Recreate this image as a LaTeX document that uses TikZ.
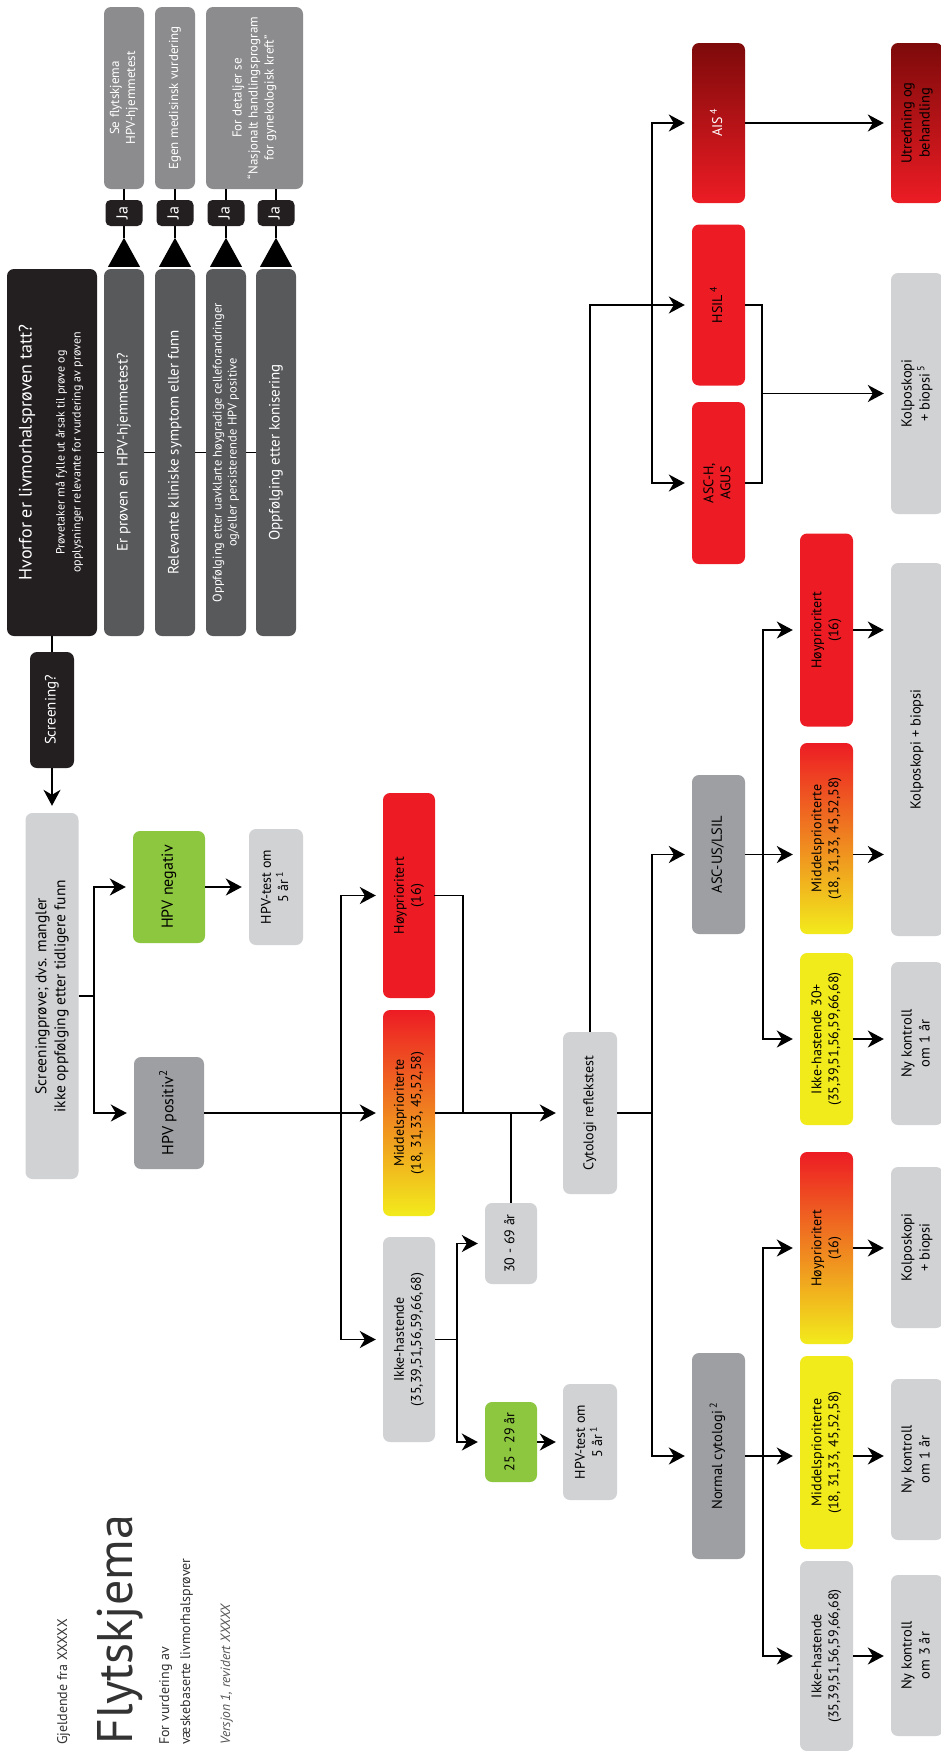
\documentclass[tikz,border=0pt]{standalone}
\usepackage{fontspec}
\setmainfont{PT Sans}
\usepackage{graphicx}
\usetikzlibrary{arrows.meta,calc}
\definecolor{blk}{HTML}{231F20}
\definecolor{dkg}{HTML}{58595B}
\definecolor{mdg}{HTML}{8C8C8E}
\definecolor{mgr}{HTML}{9D9FA2}
\definecolor{lgr}{HTML}{D1D2D4}
\definecolor{grn}{HTML}{8DC63F}
\definecolor{rd}{HTML}{ED1C24}
\definecolor{yl}{HTML}{F2EB1C}
\definecolor{org}{HTML}{F3922A}
\definecolor{drd}{HTML}{7D0A0A}
\definecolor{ttl}{HTML}{333333}
\definecolor{vers}{HTML}{555555}
\newcommand\rtxt[3]{\rotatebox{90}{\fontsize{#1}{#2}\selectfont\begin{tabular}{@{}c@{}}#3\end{tabular}}}
\tikzset{
  bx/.style={rounded corners=7pt, inner sep=0pt},
  ln/.style={line width=1.7pt, draw=black},
  arr/.style={ln, -{Stealth[length=16pt,width=17pt,inset=5pt]}, shorten >=7pt},
  gRY/.style={top color=rd, middle color=org, bottom color=yl},
  gDR/.style={top color=drd, bottom color=rd},
  ttxt/.style={rotate=90, anchor=base west, inner sep=0pt, text=ttl},
}
\begin{document}
\begin{tikzpicture}[x=1pt,y=-1pt]
\fill[white] (0,0) rectangle (941,1751);
\useasboundingbox (0,0) rectangle (941,1751);

% title texts
\node[ttxt, font=\fontsize{14}{16}\selectfont] (gj) at (67,1745) {Gjeldende fra XXXXX};
\node[ttxt, font=\fontsize{50}{50}\selectfont] (fly) at (132,1745) {Flytskjema};
\node[ttxt, font=\fontsize{14}{16}\selectfont] (fv1) at (169,1745) {For vurdering av};
\node[ttxt, font=\fontsize{14}{16}\selectfont] (fv2) at (190,1745) {væskebaserte livmorhalsprøver};
\node[ttxt, text=vers, font=\fontsize{13.5}{16}\selectfont\itshape] (ver) at (230,1745) {Versjon 1, revidert XXXXX};

% top boxes
\node[bx, fill=mdg, text=white, minimum width=40pt, minimum height=182pt] (B1) at (124,98) {\rtxt{13}{16}{Se flytskjema\\HPV-hjemmetest}};
\node[bx, fill=mdg, text=white, minimum width=40pt, minimum height=182pt] (B2) at (175,98) {\rtxt{13}{16}{Egen medisinsk vurdering}};
\node[bx, fill=mdg, text=white, minimum width=97pt, minimum height=182pt] (B3) at (254.5,98) {\rtxt{13}{16}{For detaljer se\\“Nasjonalt handlingsprogram\\for gynekologisk kreft”}};

\foreach \n/\xx in {J1/124,J2/175,J3/226,J4/276}{
  \node[rounded corners=5pt, inner sep=0pt, fill=blk, text=white, minimum width=37pt, minimum height=26pt] (\n) at (\xx,213) {\rtxt{16}{18}{Ja}};
}

\node[bx, fill=blk, text=white, minimum width=90pt, minimum height=367pt] (H) at (52,452.5) {\rotatebox{90}{\fontsize{12}{16}\selectfont\begin{tabular}{@{}c@{}}{\fontsize{18}{22}\selectfont Hvorfor er livmorhalsprøven tatt?}\\[17pt]Prøvetaker må fylle ut årsak til prøve og\\opplysninger relevante for vurdering av prøven\end{tabular}}};
\node[bx, fill=dkg, text=white, minimum width=40pt, minimum height=367pt] (D1) at (124,452.5) {\rtxt{15}{18}{Er prøven en HPV-hjemmetest?}};
\node[bx, fill=dkg, text=white, minimum width=40pt, minimum height=367pt] (D2) at (175,452.5) {\rtxt{15}{18}{Relevante kliniske symptom eller funn}};
\node[bx, fill=dkg, text=white, minimum width=40pt, minimum height=367pt] (D3) at (226,452.5) {\rtxt{12.5}{15}{Oppfølging etter uavklarte høygradige celleforandringer\\og/eller persisterende HPV positive}};
\node[bx, fill=dkg, text=white, minimum width=40pt, minimum height=367pt] (D4) at (276,452.5) {\rtxt{15}{18}{Oppfølging etter konisering}};

\node[bx, fill=blk, text=white, minimum width=44pt, minimum height=116pt] (S) at (52,710) {\rtxt{15}{18}{Screening?}};
\node[bx, fill=lgr, minimum width=53pt, minimum height=366pt] (SP) at (52,996) {\rtxt{15.5}{19}{Screeningprøve; dvs. mangler\\ikke oppfølging etter tidligere funn}};
\node[bx, fill=grn, minimum width=72pt, minimum height=112pt] (NEG) at (169,887) {\rtxt{16}{19}{HPV negativ}};
\node[bx, fill=lgr, minimum width=54pt, minimum height=116pt] (T5a) at (276,887) {\rtxt{14}{17}{HPV-test om\\5 år\,\textsuperscript{1}}};
\node[bx, fill=mgr, minimum width=70pt, minimum height=112pt] (POS) at (169,1113) {\rtxt{16}{19}{HPV positiv\textsuperscript{2}}};

\node[bx, fill=rd, minimum width=52pt, minimum height=205pt] (HOY1) at (409,895.5) {\rtxt{14}{17}{Høyprioritert\\(16)}};
\node[bx, gRY, minimum width=52pt, minimum height=206pt] (MID1) at (409,1113) {\rtxt{14}{17}{Middelsprioriterte\\(18, 31,33, 45,52,58)}};
\node[bx, fill=lgr, minimum width=52pt, minimum height=205pt] (IKK1) at (409,1339.5) {\rtxt{14}{17}{Ikke-hastende\\(35,39,51,56,59,66,68)}};
\node[bx, fill=lgr, minimum width=52pt, minimum height=81pt] (A3069) at (511,1243.5) {\rtxt{14}{17}{30 - 69 år}};
\node[bx, fill=grn, minimum width=52pt, minimum height=80pt] (A2529) at (511,1442) {\rtxt{14}{17}{25 - 29 år}};
\node[bx, fill=lgr, minimum width=54pt, minimum height=116pt] (T5b) at (590,1442) {\rtxt{14}{17}{HPV-test om\\5 år\,\textsuperscript{1}}};
\node[bx, fill=lgr, minimum width=54pt, minimum height=162pt] (CYT) at (590,1113) {\rtxt{14}{17}{Cytologi reflekstest}};

\node[bx, fill=mgr, minimum width=53pt, minimum height=206pt] (NORM) at (718.5,1456) {\rtxt{14.5}{17}{Normal cytologi\,\textsuperscript{2}}};
\node[bx, fill=mgr, minimum width=53pt, minimum height=159pt] (ASCUS) at (718.5,854.5) {\rtxt{14.5}{17}{ASC-US/LSIL}};
\node[bx, fill=rd, minimum width=53pt, minimum height=162pt] (ASCH) at (718.5,483) {\rtxt{14}{17}{ASC-H,\\AGUS}};
\node[bx, fill=rd, minimum width=53pt, minimum height=161pt] (HSIL) at (718.5,305) {\rtxt{14}{17}{HSIL\,\textsuperscript{4}}};
\node[bx, gDR, text=white, minimum width=53pt, minimum height=160pt] (AIS) at (718.5,123) {\rtxt{14}{17}{AIS\,\textsuperscript{4}}};

\node[bx, fill=rd, minimum width=53pt, minimum height=193pt] (HOY2) at (826.5,630) {\rtxt{14}{17}{Høyprioritert\\(16)}};
\node[bx, gRY, minimum width=53pt, minimum height=191pt] (MID2) at (826.5,838.5) {\rtxt{14}{17}{Middelsprioriterte\\(18, 31,33, 45,52,58)}};
\node[bx, fill=yl, minimum width=53pt, minimum height=172pt] (IKK30) at (826.5,1039) {\rtxt{14}{17}{Ikke-hastende 30+\\(35,39,51,56,59,66,68)}};
\node[bx, gRY, minimum width=53pt, minimum height=192pt] (HOY3) at (826.5,1248) {\rtxt{14}{17}{Høyprioritert\\(16)}};
\node[bx, fill=yl, minimum width=53pt, minimum height=193pt] (MID3) at (826.5,1452.5) {\rtxt{14}{17}{Middelsprioriterte\\(18, 31,33, 45,52,58)}};
\node[bx, fill=lgr, minimum width=53pt, minimum height=190pt] (IKK3) at (826.5,1656) {\rtxt{14}{17}{Ikke-hastende\\(35,39,51,56,59,66,68)}};

\node[bx, gDR, minimum width=52pt, minimum height=160pt] (UTR) at (917,123) {\rtxt{14.5}{18}{Utredning og\\behandling}};
\node[bx, fill=lgr, minimum width=52pt, minimum height=241pt] (KOL5) at (917,393.5) {\rtxt{14.5}{18}{Kolposkopi\\+ biopsi\,\textsuperscript{5}}};
\node[bx, fill=lgr, minimum width=52pt, minimum height=373pt] (KOLB) at (917,749.5) {\rtxt{14.5}{18}{Kolposkopi + biopsi}};
\node[bx, fill=lgr, minimum width=52pt, minimum height=163pt] (NYK1a) at (917,1043.5) {\rtxt{14.5}{18}{Ny kontroll\\om 1 år}};
\node[bx, fill=lgr, minimum width=52pt, minimum height=161pt] (KOL2) at (917,1247.5) {\rtxt{14.5}{18}{Kolposkopi\\+ biopsi}};
\node[bx, fill=lgr, minimum width=52pt, minimum height=161pt] (NYK1b) at (917,1459.5) {\rtxt{14.5}{18}{Ny kontroll\\om 1 år}};
\node[bx, fill=lgr, minimum width=52pt, minimum height=161pt] (NYK3) at (917,1655.5) {\rtxt{14.5}{18}{Ny kontroll\\om 3 år}};

% bus coordinates
\coordinate (bA) at (94,0);
\coordinate (bB) at (341,0);
\coordinate (bC) at (463,0);
\coordinate (bD) at (457,0);
\coordinate (bF) at (652,0);
\coordinate (bG) at (762,0);
\coordinate (bH) at (763,0);

% top connectors
\foreach \d/\j in {D1/J1,D2/J2,D3/J3,D4/J4}{
  \fill ($(\d.north)+(-16,-2)$) -- ++(32,0) -- ++(-16,-29) -- cycle;
  \draw[ln] ($(\d.north)+(0,-31)$) -- (\j.south);
}
\draw[ln] (J1.north) -- (B1.south);
\draw[ln] (J2.north) -- (B2.south);
\draw[ln] (J3.north) -- (J3.north |- B3.south);
\draw[ln] (J4.north) -- (J4.north |- B3.south);
\draw[ln] (H.east) -- (D1.west) (D1.east) -- (D2.west) (D2.east) -- (D3.west) (D3.east) -- (D4.west);
\draw[ln] (H.south) -- (H.south |- S.north);
\draw[arr] (S.south) -- (SP.north);

% screening branch
\draw[ln] (SP.east) -- (SP.east -| bA);
\draw[ln, line cap=rect] (bA |- NEG.west) -- (bA |- POS.west);
\draw[arr] (bA |- NEG.west) -- (NEG.west);
\draw[arr] (bA |- POS.west) -- (POS.west);
\draw[arr] (NEG.east) -- (NEG.east -| T5a.west);

% HPV positive branch
\draw[arr] (POS.east) -- (POS.east -| MID1.west);
\draw[ln, line cap=rect] (bB |- HOY1.west) -- (bB |- IKK1.west);
\draw[arr] (bB |- HOY1.west) -- (HOY1.west);
\draw[arr] (bB |- IKK1.west) -- (IKK1.west);
\draw[ln, line cap=rect] (HOY1.east) -| (bC |- MID1.east);
\draw[arr] (MID1.east) -- (MID1.east -| CYT.west);
\draw[ln] (IKK1.east) -- (IKK1.east -| bD);
\draw[ln, line cap=rect] (bD |- A3069.west) -- (bD |- A2529.west);
\draw[arr] (bD |- A3069.west) -- (A3069.west);
\draw[arr] (bD |- A2529.west) -- (A2529.west);
\draw[ln] (A3069.north) -- (A3069.north |- MID1.east);
\draw[arr] (A2529.east) -- (A2529.east -| T5b.west);

% cytology branch
\draw[arr] (CYT.north) |- (HSIL.west);
\draw[ln] (CYT.east) -- (CYT.east -| bF);
\draw[ln, line cap=rect] (bF |- ASCUS.west) -- (bF |- NORM.west);
\draw[arr] (bF |- ASCUS.west) -- (ASCUS.west);
\draw[arr] (bF |- NORM.west) -- (NORM.west);
\draw[ln, line cap=rect] (bF |- AIS.west) -- (bF |- ASCH.west);
\draw[arr] (bF |- AIS.west) -- (AIS.west);
\draw[arr] (bF |- ASCH.west) -- (ASCH.west);
\draw[ln] (HSIL.east) -| (bG |- ASCH.east) -- (ASCH.east);
\draw[arr] (bG |- KOL5.west) -- (KOL5.west);
\draw[arr] (AIS.east) -- (AIS.east -| UTR.west);

% ASC-US branch
\draw[ln] (ASCUS.east) -- (ASCUS.east -| bH);
\draw[ln, line cap=rect] (bH |- HOY2.west) -- (bH |- IKK30.west);
\draw[arr] (bH |- HOY2.west) -- (HOY2.west);
\draw[arr] (bH |- ASCUS.east) -- (MID2.west |- ASCUS.east);
\draw[arr] (bH |- IKK30.west) -- (IKK30.west);
\draw[arr] (HOY2.east) -- (HOY2.east -| KOLB.west);
\draw[arr] (MID2.east |- ASCUS.east) -- (KOLB.west |- ASCUS.east);
\draw[arr] (IKK30.east) -- (IKK30.east -| NYK1a.west);

% normal cytology branch
\draw[ln] (NORM.east) -- (NORM.east -| bH);
\draw[ln, line cap=rect] (bH |- HOY3.west) -- (bH |- IKK3.west);
\draw[arr] (bH |- HOY3.west) -- (HOY3.west);
\draw[arr] (bH |- NORM.east) -- (MID3.west |- NORM.east);
\draw[arr] (bH |- IKK3.west) -- (IKK3.west);
\draw[arr] (HOY3.east) -- (HOY3.east -| KOL2.west);
\draw[arr] (MID3.east |- NORM.east) -- (NYK1b.west |- NORM.east);
\draw[arr] (IKK3.east) -- (IKK3.east -| NYK3.west);
\end{tikzpicture}
\end{document}
